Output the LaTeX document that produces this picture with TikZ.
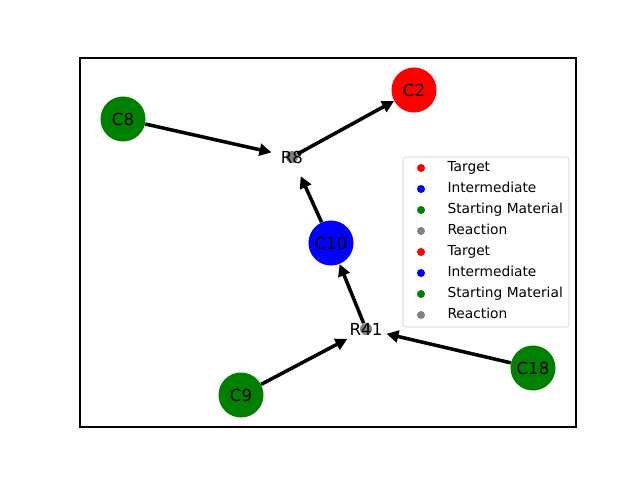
\documentclass[tikz,border=0pt]{standalone}
\usepackage{fontspec}
\setmainfont{DejaVu Sans}
\usetikzlibrary{arrows.meta,backgrounds}
\definecolor{mplgreen}{RGB}{0,128,0}
\definecolor{mplgray}{RGB}{128,128,128}

\begin{document}
\begin{tikzpicture}[x=0.025cm,y=-0.025cm,
    every node/.style={font=\fontsize{11.8}{14}\selectfont},
    compound/.style={circle,inner sep=0pt,minimum size=1.125cm,fill=#1},
    rxn/.style={circle,inner sep=0pt,minimum size=0.3cm,fill=mplgray},
    rxnlabel/.style={inner sep=0pt},
    flow/.style={-{Triangle[length=8.5pt,width=8.5pt]},line width=2.5pt},
    intorxn/.style={flow,shorten >=10.5pt},
    legdot/.style={circle,inner sep=0pt,minimum size=0.2cm,fill=#1},
    legtext/.style={anchor=west,inner sep=3pt,text height=7pt,text depth=2pt,font=\fontsize{9.8}{12}\selectfont}]
    \useasboundingbox (0,0) rectangle (640,480);
    %%%%% THE AXES
    \draw[line width=0.8pt] (80,58) rectangle (576,427);
    %%%%% THE COMPOUNDS
    \node[compound=red] (C2) at (414,90) {C2};
    \node[compound=mplgreen] (C8) at (123,119) {C8};
    \node[compound=blue] (C10) at (331,243) {C10};
    \node[compound=mplgreen] (C9) at (241,395) {C9};
    \node[compound=mplgreen] (C18) at (533,368) {C18};
    %%%%% THE REACTIONS
    \node[rxn] (R8) at (292,157) {};
    \node[rxnlabel] (R8lab) at (R8) {R8};
    \node[rxn] (R41) at (366,329) {};
    \node[rxnlabel] (R41lab) at (R41) {R41};
    %%%% LINKS BETWEEN COMPOUNDS AND REACTIONS
    \begin{scope}[on background layer]
      \draw[intorxn] (C8) -- (R8);
      \draw[intorxn] (C10) -- (R8);
      \draw[flow] (R8) -- (C2);
      \draw[intorxn] (C9) -- (R41);
      \draw[intorxn] (C18) -- (R41);
      \draw[flow] (R41) -- (C10);
    \end{scope}
    %%%%% THE LEGEND
    \draw[draw=black!20,fill=white,rounded corners=2pt] (403,157) rectangle (569,327);
    \foreach \lab/\col [count=\i from 0] in {Target/red,Intermediate/blue,Starting Material/mplgreen,Reaction/mplgray,
        Target/red,Intermediate/blue,Starting Material/mplgreen,Reaction/mplgray} {
      \node[legdot=\col] (dot\i) at (421,{168+21*\i}) {};
      \node[legtext] (leg\i) at (443,{168+21*\i}) {\lab};
    }
\end{tikzpicture}
\end{document}
